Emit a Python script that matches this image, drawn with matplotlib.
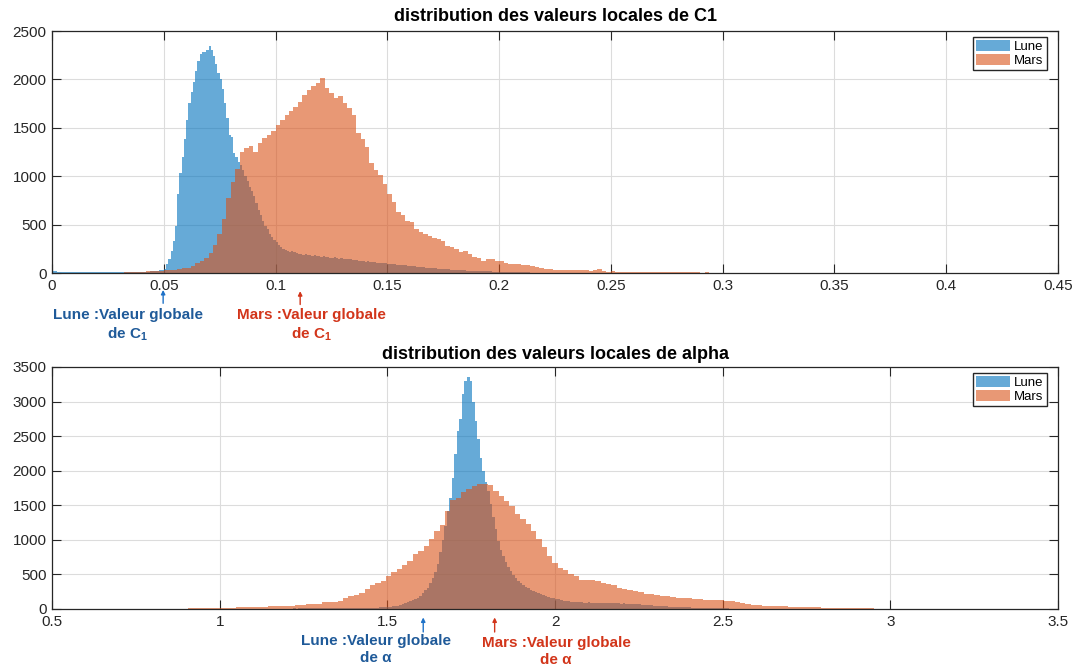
import numpy as np
import matplotlib.pyplot as plt

plt.rcParams['font.family'] = ['Liberation Sans', 'DejaVu Sans']
plt.rcParams['mathtext.fontset'] = 'custom'
plt.rcParams['mathtext.rm'] = 'Liberation Sans'
plt.rcParams['mathtext.bf'] = 'Liberation Sans:bold'

# C1 : Lune, bins of 0.001 from 0
c1_lune_start, c1_lune_width = 0.0, 0.001
c1_lune = [
    20, 18, 15, 12, 15, 10, 12, 8, 10, 14,
    10, 8, 12, 9, 11, 8, 10, 12, 9, 8,
    10, 9, 12, 8, 10, 9, 7, 10, 8, 9,
    8, 9, 10, 8, 9, 10, 11, 9, 12, 10,
    12, 14, 13, 15, 18, 20, 22, 25, 30, 35,
    40, 90, 145, 230, 330, 490, 820, 1030, 1200, 1380,
    1580, 1760, 1870, 1970, 2090, 2190, 2260, 2280, 2280, 2300,
    2340, 2300, 2245, 2160, 2070, 2000, 1900, 1760, 1600, 1430,
    1410, 1240, 1200, 1150, 1120, 1060, 1000, 950, 890, 850,
    800, 720, 650, 600, 540, 490, 450, 400, 370, 340,
    320, 290, 270, 250, 240, 230, 220, 230, 215, 205,
    200, 195, 190, 192, 185, 188, 180, 182, 176, 175,
    170, 172, 165, 168, 160, 158, 162, 155, 150, 152,
    148, 145, 140, 142, 135, 130, 132, 126, 122, 125,
    118, 120, 115, 112, 110, 108, 105, 104, 100, 102,
    98, 95, 92, 90, 88, 85, 82, 80, 78, 75,
    72, 70, 68, 65, 62, 60, 58, 56, 54, 52,
    50, 48, 46, 44, 42, 40, 38, 37, 35, 34,
    32, 30, 29, 28, 27, 26, 25, 24, 23, 22,
    21, 20, 19, 18, 18, 17, 16, 15, 15, 14,
    13, 12, 12, 11, 10, 10, 9, 9, 8, 8,
    7, 7, 6, 6, 5, 5, 5, 4, 4, 4,
    3, 3, 3, 3, 2, 2, 2, 2, 2, 2,
]

# C1 : Mars, bins of 0.002 from 0.03
c1_mars_start, c1_mars_width = 0.030, 0.002
c1_mars = [
    5, 6, 8, 10, 12, 15, 18, 20, 22, 25,
    28, 32, 36, 40, 48, 55, 75, 100, 125, 160,
    210, 290, 400, 560, 770, 940, 1070, 1250, 1290, 1310,
    1250, 1340, 1390, 1430, 1470, 1530, 1580, 1630, 1670, 1720,
    1770, 1840, 1890, 1930, 1960, 2010, 1910, 1860, 1810, 1830,
    1760, 1700, 1630, 1450, 1380, 1300, 1140, 1060, 1010, 920,
    820, 730, 630, 595, 540, 525, 455, 420, 405, 380,
    365, 350, 330, 280, 265, 245, 215, 230, 195, 165,
    160, 125, 150, 140, 125, 120, 100, 92, 90, 90,
    88, 85, 72, 58, 50, 40, 38, 32, 30, 30,
    28, 29, 27, 28, 30, 25, 35, 38, 20, 12,
    18, 15, 12, 12, 10, 10, 9, 9, 8, 8,
    8, 7, 8, 7, 7, 6, 7, 6, 6, 6,
    5, 6, 5, 5, 5, 4, 5, 4, 4, 4,
    4, 3, 4, 3, 3, 3, 3, 2, 3, 2,
    2, 2, 2, 2, 2, 1, 2, 1, 1, 1,
    1, 1, 1, 1, 1, 1, 1, 1, 1, 1, 1, 1, 1, 1,
]

# alpha : Lune, bins of 0.0075 from 1.1
al_lune_start, al_lune_width = 1.1, 0.0075
al_lune = [
    3, 3, 4, 3, 4, 5, 4, 5, 5, 6,
    5, 6, 6, 7, 6, 7, 8, 7, 8, 8,
    9, 8, 9, 10, 9, 10, 11, 10, 11, 12,
    12, 13, 12, 14, 13, 15, 14, 16, 15, 17,
    16, 18, 17, 18, 19, 18, 20, 19, 21, 20,
    22, 25, 28, 32, 36, 40, 45, 50, 58, 66,
    80, 95, 110, 125, 145, 165, 195, 230, 270, 310,
    380, 450, 540, 650, 820, 1000, 1200, 1420, 1600, 1900,
    2240, 2580, 2750, 3110, 3300, 3360, 3300, 2990, 2720, 2460,
    2190, 2000, 1830, 1700, 1520, 1330, 1150, 980, 860, 760,
    680, 610, 550, 490, 450, 410, 380, 350, 320, 300,
    280, 260, 245, 230, 215, 200, 190, 175, 165, 160,
    150, 140, 130, 122, 118, 112, 108, 104, 100, 96,
    94, 92, 90, 95, 88, 90, 86, 92, 85, 88,
    84, 86, 82, 85, 80, 83, 78, 80, 76, 78,
    74, 70, 72, 66, 64, 60, 58, 55, 52, 50,
    48, 45, 42, 40, 38, 36, 34, 32, 30, 28,
    26, 25, 23, 22, 20, 19, 18, 17, 16, 15,
    14, 13, 12, 11, 10, 10, 9, 8, 8, 7,
    7, 6, 6, 5, 5, 4, 4, 3, 3, 2,
]

# alpha : Mars, bins of 0.016 from 0.6
al_mars_start, al_mars_width = 0.6, 0.016
al_mars = [
    1, 1, 2, 1, 2, 2, 1, 2, 2, 3,
    2, 3, 3, 4, 3, 5, 4, 6, 7, 8,
    8, 9, 10, 9, 11, 14, 18, 20, 22, 24,
    25, 28, 32, 35, 38, 38, 42, 45, 48, 52,
    62, 70, 72, 78, 96, 100, 108, 122, 160, 185,
    200, 230, 290, 345, 370, 410, 470, 540, 580, 640,
    690, 790, 845, 910, 1010, 1130, 1220, 1420, 1570, 1610,
    1690, 1735, 1785, 1810, 1805, 1800, 1710, 1640, 1560, 1490,
    1370, 1300, 1225, 1130, 1010, 890, 770, 670, 590, 560,
    500, 470, 425, 415, 418, 412, 378, 365, 350, 305,
    285, 275, 256, 250, 222, 215, 208, 190, 182, 170,
    165, 159, 155, 150, 148, 135, 130, 126, 124, 122,
    118, 101, 92, 77, 60, 53, 46, 43, 40, 39,
    37, 32, 29, 28, 25, 24, 22, 20, 19, 18,
    16, 14, 13, 12, 10, 9, 8, 6, 5, 4,
]

c_lune = (0.0, 0.447, 0.741)
c_mars = (0.85, 0.325, 0.098)
dark = '#262626'


def edges(start, width, counts):
    return start + width * np.arange(len(counts) + 1)


def style(ax, xlim, ylim, xticks, yticks, xlabels):
    ax.set_xlim(xlim)
    ax.set_ylim(ylim)
    ax.set_xticks(xticks)
    ax.set_xticklabels(xlabels)
    ax.set_yticks(yticks)
    ax.set_axisbelow(True)
    ax.grid(True, color='#dcdcdc', linewidth=0.8)
    ax.tick_params(direction='in', length=6.5, width=0.8, top=True, right=True,
                   labelsize=11, colors=dark, pad=4)
    for s in ax.spines.values():
        s.set_color(dark)
        s.set_linewidth(0.9)
    ax.legend(loc='upper right', bbox_to_anchor=(0.989, 0.975), borderaxespad=0,
              fontsize=9.5, fancybox=False, framealpha=1,
              edgecolor=dark, borderpad=0.25, labelspacing=0.05,
              handlelength=2.6, handleheight=0.9, handletextpad=0.3)


fig = plt.figure(figsize=(10.73, 6.71), dpi=100)
ax1 = fig.add_axes([0.0485, 0.5931, 0.9375, 0.3607])
ax2 = fig.add_axes([0.0485, 0.0924, 0.9375, 0.3607])

ax1.stairs(c1_lune, edges(c1_lune_start, c1_lune_width, c1_lune), fill=True,
           color=c_lune, alpha=0.6, linewidth=0, label='Lune')
ax1.stairs(c1_mars, edges(c1_mars_start, c1_mars_width, c1_mars), fill=True,
           color=c_mars, alpha=0.6, linewidth=0, label='Mars')
style(ax1, (0, 0.45), (0, 2500), np.arange(0, 0.451, 0.05), np.arange(0, 2501, 500),
      ['0', '0.05', '0.1', '0.15', '0.2', '0.25', '0.3', '0.35', '0.4', '0.45'])
ax1.set_title('distribution des valeurs locales de C1', fontsize=13,
              fontweight='bold', pad=7)

ax2.stairs(al_lune, edges(al_lune_start, al_lune_width, al_lune), fill=True,
           color=c_lune, alpha=0.6, linewidth=0, label='Lune')
ax2.stairs(al_mars, edges(al_mars_start, al_mars_width, al_mars), fill=True,
           color=c_mars, alpha=0.6, linewidth=0, label='Mars')
style(ax2, (0.5, 3.5), (0, 3500), np.arange(0.5, 3.51, 0.5), np.arange(0, 3501, 500),
      ['0.5', '1', '1.5', '2', '2.5', '3', '3.5'])
ax2.set_title('distribution des valeurs locales de alpha', fontsize=13,
              fontweight='bold', pad=6)

# global values marked under the axes
blue_txt, red_txt = '#1f5a99', '#d2351a'
blue_arr, red_arr = '#1f72c8', '#d2351a'


def mark(ax, x, tip, tail, tx, ty, text, ctext, carrow):
    ax.annotate('', xy=(x, tip), xytext=(x, tail),
                xycoords=ax.get_xaxis_transform(), textcoords=ax.get_xaxis_transform(),
                arrowprops=dict(arrowstyle='-|>', color=carrow, lw=1.0,
                                mutation_scale=6, shrinkA=0, shrinkB=0),
                annotation_clip=False)
    ax.text(tx, ty, text, transform=ax.get_xaxis_transform(), ha='center', va='top',
            fontsize=11, fontweight='bold', color=ctext, linespacing=1.25,
            multialignment='center', clip_on=False)


mark(ax1, 0.0497, -0.07, -0.125, 0.0339, -0.145,
     'Lune :Valeur globale\nde $\\mathbf{C_1}$', blue_txt, blue_arr)
mark(ax1, 0.111, -0.075, -0.13, 0.116, -0.145,
     'Mars :Valeur globale\nde $\\mathbf{C_1}$', red_txt, red_arr)
mark(ax2, 1.607, -0.035, -0.095, 1.465, -0.105,
     'Lune :Valeur globale\nde α', blue_txt, blue_arr)
mark(ax2, 1.82, -0.035, -0.095, 2.003, -0.113,
     'Mars :Valeur globale\nde α', red_txt, red_arr)

fig.savefig('out.png', dpi=100)
